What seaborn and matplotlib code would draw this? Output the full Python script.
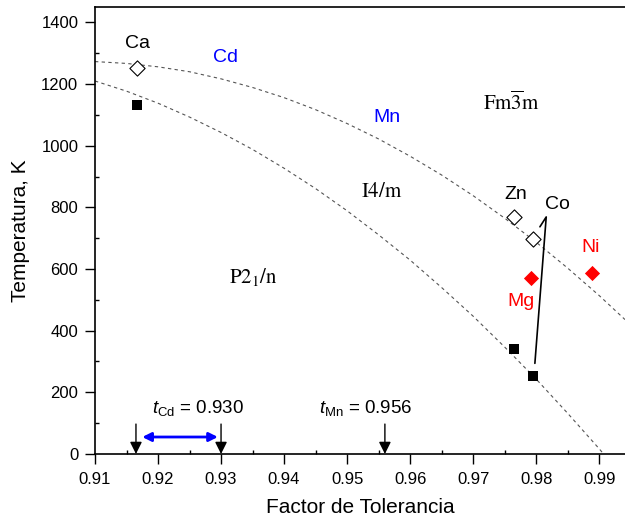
import matplotlib
matplotlib.use("Agg")
import matplotlib.pyplot as plt
import numpy as np
import pandas as pd
import seaborn as sns
from matplotlib.ticker import MultipleLocator

# phase boundary guide lines
upper_t = [0.910, 0.915, 0.920, 0.925, 0.930, 0.935, 0.940, 0.945, 0.950,
           0.955, 0.960, 0.965, 0.970, 0.975, 0.980, 0.985, 0.990, 0.9941]
upper_T = [1273, 1267, 1256, 1240, 1217, 1189, 1156, 1117, 1072,
           1022, 966, 905, 838, 765, 687, 603, 514, 436]
lower_t = [0.910, 0.915, 0.920, 0.925, 0.930, 0.935, 0.940, 0.945, 0.950,
           0.955, 0.960, 0.965, 0.970, 0.975, 0.980, 0.985, 0.990, 0.9907]
lower_T = [1210, 1177, 1138, 1093, 1043, 988, 927, 861, 789,
           711, 629, 540, 447, 347, 243, 132, 17, 0]

# transition temperatures
open_t = [0.9166, 0.9765, 0.9795]      # Ca, Zn, Co  (I4/m -> Fm-3m)
open_T = [1253, 769, 699]
square_t = [0.9166, 0.9765, 0.9795]    # Ca, Zn, Co  (P21/n -> I4/m)
square_T = [1133, 339, 254]
red_t = [0.9792, 0.9888]               # Mg, Ni
red_T = [571, 586]

arrow_t = [0.9165, 0.930, 0.956]

sns.set_style("ticks")
plt.rcParams["font.family"] = ["Liberation Sans", "DejaVu Sans"]
plt.rcParams["mathtext.fontset"] = "custom"
plt.rcParams["mathtext.rm"] = "Liberation Sans"
plt.rcParams["mathtext.it"] = "Liberation Sans:italic"
plt.rcParams["text.color"] = "black"
plt.rcParams["axes.labelcolor"] = "black"
plt.rcParams["xtick.color"] = "black"
plt.rcParams["ytick.color"] = "black"

fig = plt.figure(figsize=(6.25, 5.2), dpi=100)
ax = fig.add_axes([0.152, 0.127, 0.848, 0.8595])

up = pd.DataFrame({"t": upper_t, "T": upper_T})
lo = pd.DataFrame({"t": lower_t, "T": lower_T})
for df in (up, lo):
    sns.lineplot(data=df, x="t", y="T", ax=ax, color="#555555", lw=0.8,
                 linestyle=(0, (3, 3)), estimator=None, sort=False)

sns.scatterplot(x=open_t, y=open_T, ax=ax, marker="D", s=60,
                facecolor="white", edgecolor="black", linewidth=0.8, zorder=3)
sns.scatterplot(x=square_t, y=square_T, ax=ax, marker="s", s=60,
                color="black", linewidth=0, zorder=3)
sns.scatterplot(x=red_t, y=red_T, ax=ax, marker="D", s=60,
                color="red", linewidth=0, zorder=3)

# Co pointer lines
ax.plot([0.9806, 0.9816, 0.9798], [737, 769, 294], color="black", lw=1.2)

# arrows on the tolerance axis
for t in arrow_t:
    ax.annotate("", xy=(t, 0), xytext=(t, 97),
                arrowprops=dict(arrowstyle="-|>", color="black", lw=1,
                                mutation_scale=18, shrinkA=0, shrinkB=0))
ax.annotate("", xy=(0.9175, 55), xytext=(0.9295, 55),
            arrowprops=dict(arrowstyle="<|-|>", color="blue", lw=2,
                            mutation_scale=13, shrinkA=0, shrinkB=0))

lab = dict(fontsize=14, ha="center", va="center")
ax.text(0.9167, 1333, "Ca", color="black", **lab)
ax.text(0.9307, 1285, "Cd", color="blue", **lab)
ax.text(0.9563, 1093, "Mn", color="blue", **lab)
ax.text(0.9767, 842, "Zn", color="black", **lab)
ax.text(0.9833, 809, "Co", color="black", **lab)
ax.text(0.9887, 670, "Ni", color="red", **lab)
ax.text(0.9776, 494, "Mg", color="red", **lab)

ser = dict(fontsize=15, ha="center", va="center", math_fontfamily="stix")
ax.text(0.9761, 1142, r"$\mathrm{Fm\overline{3}m}$", **ser)
ax.text(0.9555, 853, r"$\mathrm{I4/m}$", **ser)
ax.text(0.9351, 575, r"$\mathrm{P2_1/n}$", **ser)

ax.text(0.9264, 150, r"$t_{\mathrm{Cd}}$ = 0.930", fontsize=13.5, ha="center", va="center")
ax.text(0.9530, 150, r"$t_{\mathrm{Mn}}$ = 0.956", fontsize=13.5, ha="center", va="center")

ax.set_xlim(0.91, 0.9941)
ax.set_ylim(0, 1450)
ticks = np.arange(0.91, 0.9901, 0.01)
ax.set_xticks(ticks)
ax.set_xticklabels([f"{v:.2f}" for v in ticks])
ax.xaxis.set_minor_locator(MultipleLocator(0.005))
ax.yaxis.set_major_locator(MultipleLocator(200))
ax.yaxis.set_minor_locator(MultipleLocator(100))
ax.tick_params(which="major", direction="out", length=7, width=1, labelsize=12,
               color="black", labelcolor="black")
ax.tick_params(axis="x", which="major", pad=6)
ax.tick_params(axis="y", which="major", pad=5)
ax.tick_params(which="minor", direction="in", length=3, width=1, color="black")
for s in ["left", "bottom", "top"]:
    ax.spines[s].set_color("black")
    ax.spines[s].set_linewidth(1.2)
ax.spines["right"].set_visible(False)

ax.set_xlabel("Factor de Tolerancia", fontsize=15, labelpad=8, color="black")
ax.set_ylabel("Temperatura, K", fontsize=15, labelpad=8, color="black")

fig.savefig("out.png", dpi=100)
